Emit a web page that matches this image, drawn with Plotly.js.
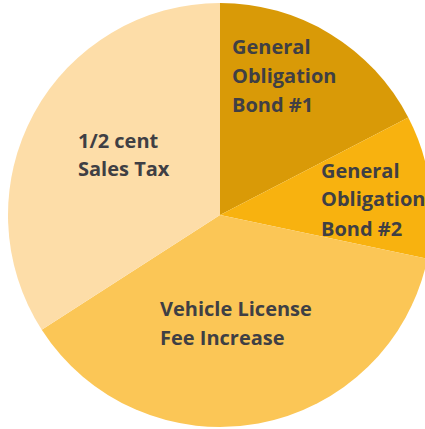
<!DOCTYPE html>
<html>
<head>
<meta charset="utf-8">
<script src="https://cdn.plot.ly/plotly-3.0.1.min.js"></script>
<style>
html,body{margin:0;padding:0;overflow:hidden;background:#fff;}
#chart{width:440px;height:429px;}
</style>
</head>
<body>
<div id="chart"></div>
<script>
// Data
var labels = ["General Obligation Bond #1", "General Obligation Bond #2", "Vehicle License Fee Increase", "1/2 cent Sales Tax"];
var values = [17.4, 10.9, 37.6, 34.1];
var colors = ["#D99A07", "#F8B20F", "#FBC656", "#FDDDA8"];
var labelLines = [
  ["General", "Obligation", "Bond #1"],
  ["General", "Obligation", "Bond #2"],
  ["Vehicle License", "Fee Increase"],
  ["1/2 cent", "Sales Tax"]
];
// label anchor positions (px, left edge / centre of first line) and line pitch
var labelPos = [
  {x: 231, y: 47},
  {x: 320, y: 170},
  {x: 159, y: 308},
  {x: 77, y: 140}
];
var pitch = [28.5, 29, 29, 28];

var W = 440, H = 429;
var cx = 220, cy = 215, R = 212;

var annotations = [];
labelLines.forEach(function(lines, i){
  lines.forEach(function(t, j){
    annotations.push({
      text: t,
      xref: 'paper', yref: 'paper',
      x: labelPos[i].x / W,
      y: 1 - (labelPos[i].y + j * pitch[i]) / H,
      xanchor: 'left', yanchor: 'middle',
      showarrow: false,
      borderpad: 0,
      font: {family: 'Open Sans, sans-serif', size: 20, color: '#3F3F44', weight: 'bold'}
    });
  });
});

var data = [{
  type: 'pie',
  labels: labels,
  values: values,
  sort: false,
  direction: 'clockwise',
  rotation: 0,
  textinfo: 'none',
  hoverinfo: 'label+percent',
  marker: {colors: colors, line: {width: 0}},
  domain: {
    x: [(cx - R) / W, (cx + R) / W],
    y: [(H - (cy + R)) / H, (H - (cy - R)) / H]
  },
  showlegend: false
}];

var layout = {
  width: W, height: H,
  margin: {l: 0, r: 0, t: 0, b: 0, pad: 0},
  paper_bgcolor: '#ffffff',
  showlegend: false,
  annotations: annotations
};

Plotly.newPlot('chart', data, layout, {displayModeBar: false, staticPlot: true});
</script>
</body>
</html>
